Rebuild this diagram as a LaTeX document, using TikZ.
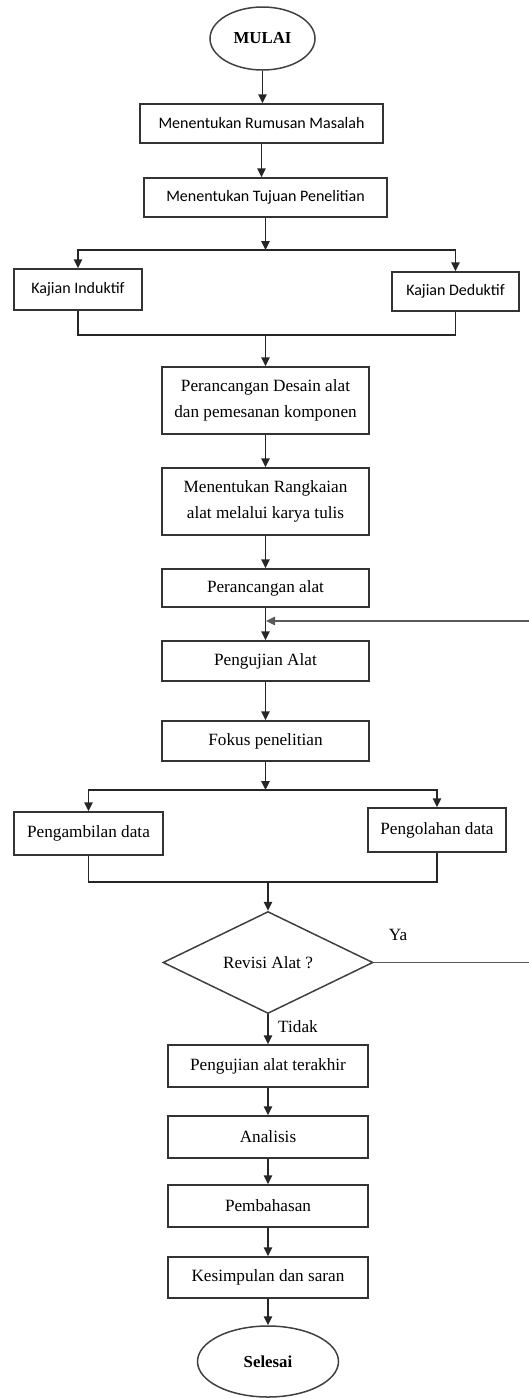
\documentclass[tikz,border=0pt]{standalone}
\usepackage{fontspec}
\setmainfont{Liberation Serif}
\newfontfamily\calibri{Carlito}
\usepackage{tikz}
\usetikzlibrary{shapes.geometric,arrows.meta}

\begin{document}
\begin{tikzpicture}[x=0.5pt,y=-0.5pt,
    line width=0.75pt,
    kotak/.style={draw=black!80, rectangle, inner sep=1pt, align=center,
        font=\fontsize{8.6}{13}\selectfont, minimum width=103.5pt},
    kotaksans/.style={kotak, font=\calibri\fontsize{8}{10}\selectfont},
    ujung/.style={draw=black!75, ellipse, inner sep=0pt, font=\bfseries\fontsize{8.4}{10}\selectfont},
    keputusan/.style={draw=black!75, diamond, inner sep=0pt, font=\fontsize{8.6}{10}\selectfont,
        minimum width=105pt, minimum height=49.5pt},
    panah/.style={-{Triangle[length=4.5pt,width=4.2pt]}, draw=black!85},
    garis/.style={draw=black!85}]
    \useasboundingbox (0,0) rectangle (529,1398);

    % Awal
    \node[ujung, minimum width=52.5pt, minimum height=31.5pt] (mulai) at (262.5,38.5) {MULAI};
    \node[kotaksans, minimum width=121.5pt, minimum height=19.5pt] (rumusan) at (261.5,123.5) {Menentukan Rumusan Masalah};
    \node[kotaksans, minimum width=121.5pt, minimum height=19.5pt] (tujuan) at (265.5,197.5) {Menentukan Tujuan Penelitian};

    % Kajian
    \node[kotaksans, minimum width=64pt, minimum height=20.5pt] (induktif) at (78,289.5) {Kajian Induktif};
    \node[kotaksans, minimum width=63.5pt, minimum height=19.5pt] (deduktif) at (455.5,291.5) {Kajian Deduktif};
    \coordinate (cabang1) at (265.5,250);
    \coordinate (gabung1) at (265.5,335);

    % Perancangan
    \node[kotak, minimum height=33.5pt] (desain) at (265.5,400.5) {Perancangan Desain alat\\dan pemesanan komponen};
    \node[kotak, minimum height=33.5pt] (rangkaian) at (265.5,501.5) {Menentukan Rangkaian\\alat melalui karya tulis};
    \node[kotak, minimum height=19pt] (rancang) at (265.5,588) {Perancangan alat};
    \node[kotak, minimum height=20pt] (uji) at (265.5,661) {Pengujian Alat};
    \node[kotak, minimum height=20pt] (fokus) at (265.5,741) {Fokus penelitian};

    % Data
    \node[kotak, minimum width=74.5pt, minimum height=21.5pt] (ambil) at (88.5,833.5) {Pengambilan data};
    \node[kotak, minimum width=69pt, minimum height=22pt] (olah) at (437,830) {Pengolahan data};
    \coordinate (cabang2) at (268,790);
    \coordinate (gabung2) at (268,882);

    % Keputusan
    \node[keputusan] (revisi) at (268,962.5) {Revisi Alat ?\\[4pt]};
    \node[font=\fontsize{8.6}{10}\selectfont] (ya) at (398,935) {Ya};
    \node[font=\fontsize{8.6}{10}\selectfont] (tidak) at (298,1027) {Tidak};
    \coordinate (balik) at (545,800);
    \coordinate (masuk) at (266,621);

    % Akhir
    \node[kotak, minimum width=100pt, minimum height=21pt] (akhir) at (268,1066) {Pengujian alat terakhir};
    \node[kotak, minimum width=100pt, minimum height=21pt] (analisis) at (268,1137) {Analisis};
    \node[kotak, minimum width=100pt, minimum height=21pt] (bahas) at (268,1206) {Pembahasan};
    \node[kotak, minimum width=100pt, minimum height=20.5pt] (simpul) at (268,1277.5) {Kesimpulan dan saran};
    \node[ujung, minimum width=70.5pt, minimum height=35.5pt] (selesai) at (268,1361.5) {Selesai\\[6pt]};

    % Alur
    \draw[panah] (mulai.south) -- (mulai.south |- rumusan.north);
    \draw[panah] (rumusan.south) -- (rumusan.south |- tujuan.north);
    \draw[panah] (tujuan.south) -- (cabang1);
    \draw[panah] (cabang1) -| (induktif.north);
    \draw[panah] (cabang1) -| (deduktif.north);
    \draw[garis] (induktif.south) |- (gabung1) -| (deduktif.south);
    \draw[panah] (gabung1) -- (desain.north);
    \draw[panah] (desain) -- (rangkaian);
    \draw[panah] (rangkaian) -- (rancang);
    \draw[panah] (rancang) -- (uji);
    \draw[panah] (uji) -- (fokus);
    \draw[panah] (fokus.south) -- (fokus.south |- cabang2);
    \draw[panah] (cabang2) -| (ambil.north);
    \draw[panah] (cabang2) -| (olah.north);
    \draw[garis] (ambil.south) |- (gabung2) -| (olah.south);
    \draw[panah] (gabung2) -- (revisi.north);
    \draw[panah, draw=black!65] (revisi.east) -| (balik) |- (masuk);
    \draw[panah] (revisi.south) -- (akhir.north);
    \draw[panah] (akhir) -- (analisis);
    \draw[panah] (analisis) -- (bahas);
    \draw[panah] (bahas) -- (simpul);
    \draw[panah] (simpul) -- (selesai);
\end{tikzpicture}
\end{document}
